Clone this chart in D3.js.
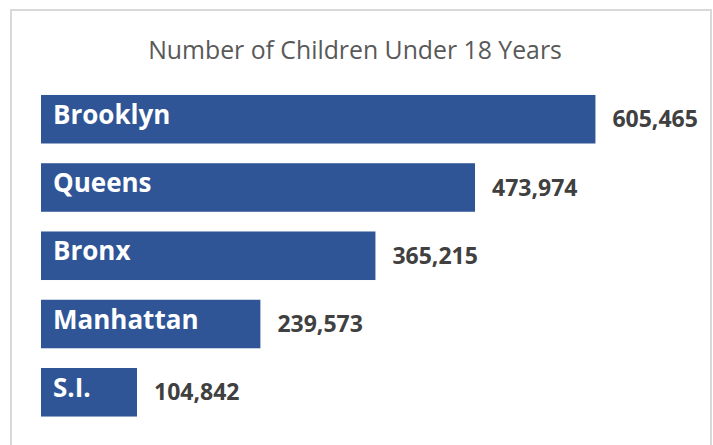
<!DOCTYPE html>
<html>
<head>
<meta charset="utf-8">
<script src="https://cdn.jsdelivr.net/npm/d3@7"></script>
<style>
  html, body { margin: 0; padding: 0; background: #fff; }
  svg { display: block; }
</style>
</head>
<body>
<svg id="chart" width="713" height="445"></svg>
<script>
const title = "Number of Children Under 18 Years";
const categories = ["Brooklyn", "Queens", "Bronx", "Manhattan", "S.I."];
const values = [605465, 473974, 365215, 239573, 104842];

const svg = d3.select("#chart");

// outer chart frame
svg.append("rect")
  .attr("x", 11).attr("y", 10)
  .attr("width", 700).attr("height", 450)
  .attr("fill", "#fff")
  .attr("stroke", "#D9D9D9")
  .attr("stroke-width", 2);

// title
svg.append("text")
  .attr("x", 355).attr("y", 59)
  .attr("text-anchor", "middle")
  .attr("font-family", "'Open Sans', sans-serif")
  .attr("font-size", 24.8)
  .attr("fill", "#595959")
  .text(title);

const x = d3.scaleLinear().domain([0, 700000]).range([41, 682]);
const y = d3.scaleBand().domain(categories)
  .range([85.1, 426.4])
  .paddingInner(0.289)
  .paddingOuter(0.1445);

const data = categories.map((c, i) => ({ cat: c, val: values[i] }));
const fmt = d3.format(",");

const g = svg.append("g");

g.selectAll("rect.bar").data(data).join("rect")
  .attr("class", "bar")
  .attr("x", x(0))
  .attr("y", d => y(d.cat))
  .attr("width", d => x(d.val) - x(0))
  .attr("height", y.bandwidth())
  .attr("fill", "#2F5597");

g.selectAll("text.cat").data(data).join("text")
  .attr("class", "cat")
  .attr("x", x(0) + 12)
  .attr("y", d => y(d.cat) + 29)
  .attr("font-family", "'Open Sans', sans-serif")
  .attr("font-weight", 700)
  .attr("font-size", 26)
  .attr("fill", "#fff")
  .text(d => d.cat);

g.selectAll("text.val").data(data).join("text")
  .attr("class", "val")
  .attr("x", d => x(d.val) + 17)
  .attr("y", d => y(d.cat) + y.bandwidth() / 2 + 8.2)
  .attr("font-family", "'Open Sans', sans-serif")
  .attr("font-weight", 700)
  .attr("font-size", 23)
  .attr("fill", "#404040")
  .text(d => fmt(d.val));
</script>
</body>
</html>
